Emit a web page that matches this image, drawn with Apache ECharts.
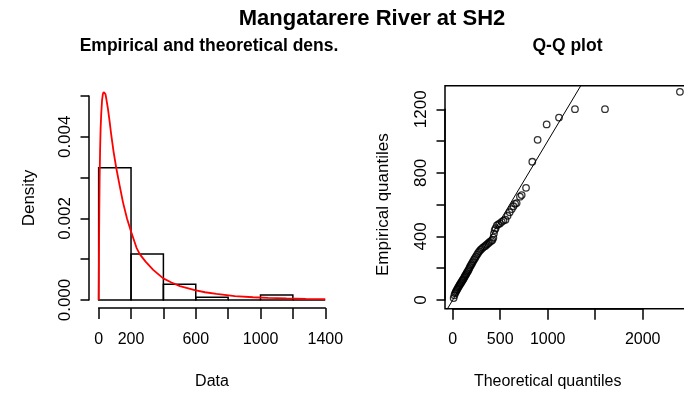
<!DOCTYPE html>
<html><head><meta charset="utf-8">
<script src="https://cdn.jsdelivr.net/npm/echarts@6/dist/echarts.min.js"></script>
<style>html,body{margin:0;padding:0;background:#fff}#c{width:684px;height:394px}</style>
</head><body><div id="c"></div>
<script>
// ---- text ----
const mainTitle = 'Mangatarere River at SH2';
const densTitle = 'Empirical and theoretical dens.';
const qqTitle = 'Q-Q plot';
const densXName = 'Data';
const densYName = 'Density';
const qqXName = 'Theoretical quantiles';
const qqYName = 'Empirical quantiles';

// ---- histogram (density scale) ----
const histBreaks = [0, 200, 400, 600, 800, 1000, 1200, 1400];
const histDensity = [0.00324, 0.00113, 0.000385, 0.000065, 0, 0.000125, 0];

// ---- fitted density curve ----
const curveX = [0, 1, 2, 4, 6, 9, 12, 16, 21, 26, 31, 37, 42, 47, 57, 68, 78, 92, 109, 130, 150, 175, 200, 234, 255, 290, 337, 399, 450, 502, 594, 657, 728, 841, 954, 1047, 1160, 1280, 1400];
const curveY = [0, 0.0006, 0.0012, 0.0022, 0.0030, 0.0037, 0.0042, 0.00458, 0.0049, 0.00505, 0.0051, 0.00511, 0.00505, 0.00494, 0.00470, 0.00437, 0.00404, 0.00364, 0.00323, 0.00280, 0.00240, 0.00200, 0.00168, 0.00128, 0.00112, 0.00094, 0.00074, 0.00053, 0.00043, 0.00034, 0.00024, 0.00019, 0.00015, 0.000095, 0.000068, 0.000050, 0.000038, 0.000028, 0.000020];

// ---- Q-Q points ----
const qqTheoretical = [10,18,25,32,38,45,52,58,65,72,78,85,92,99,106,113,120,127,134,141,148,156,164,172,180,189,198,207,216,226,236,246,257,268,280,292,305,318,332,346,360,375,390,405,418,428,434,442,452,465,480,497,516,535,556,578,600,622,640,657,673,708,726,772,838,894,989,1119,1287,1603,2392];
const qqEmpirical = [12,30,42,50,58,65,72,80,86,93,100,106,112,120,126,132,140,148,155,162,170,178,186,195,206,216,225,235,245,255,265,275,286,296,306,315,322,330,336,342,350,357,365,372,378,392,418,440,452,470,476,482,492,500,505,530,552,572,590,605,610,650,660,706,870,1008,1105,1148,1201,1201,1310];
const qqLine = [-200, 3000];

// ---- tick labels ----
const densXLabels = [0, 200, 600, 1000, 1400];
const densYLabels = ['0.000', '0.002', '0.004'];
const qqXLabels = [0, 500, 1000, 2000];
const qqYLabels = [0, 400, 800, 1200];

const FONT = 'Liberation Sans, Arial, sans-serif';
const BLACK = '#000';

function hiddenAxis(gridIndex, min, max) {
  return { type: 'value', gridIndex, min, max, show: false, splitLine: { show: false } };
}
function shownX(gridIndex, min, max, interval, labels, name, gap, labelMargin, tickLen) {
  return {
    type: 'value', gridIndex, min, max, interval, position: 'bottom',
    axisLine: { show: true, onZero: false, lineStyle: { color: BLACK, width: 1.5 } },
    axisTick: { show: true, inside: false, length: tickLen, lineStyle: { color: BLACK, width: 1.5 } },
    splitLine: { show: false },
    axisLabel: {
      margin: labelMargin, color: BLACK, fontFamily: FONT, fontSize: 16,
      showMinLabel: true, showMaxLabel: true, hideOverlap: false,
      formatter: v => labels.some(l => Math.abs(l - v) < 1e-9) ? String(v) : ''
    },
    name, nameLocation: 'middle', nameGap: gap,
    nameTextStyle: { color: BLACK, fontFamily: FONT, fontSize: 16 }
  };
}
function shownY(gridIndex, min, max, interval, labels, fmt, name, gap, labelMargin, tickLen) {
  return {
    type: 'value', gridIndex, min, max, interval, position: 'left',
    axisLine: { show: true, onZero: false, lineStyle: { color: BLACK, width: 1.5 } },
    axisTick: { show: true, inside: false, length: tickLen, lineStyle: { color: BLACK, width: 1.5 } },
    splitLine: { show: false },
    axisLabel: {
      rotate: 90, margin: labelMargin, color: BLACK, fontFamily: FONT, fontSize: 17,
      showMinLabel: true, showMaxLabel: true, hideOverlap: false,
      formatter: v => { const s = fmt(v); return labels.indexOf(s) >= 0 ? s : ''; }
    },
    name, nameLocation: 'middle', nameGap: gap, nameRotate: 90,
    nameTextStyle: { color: BLACK, fontFamily: FONT, fontSize: 17 }
  };
}

const chart = echarts.init(document.getElementById('c'), null, { renderer: 'canvas' });
const option = {
  animation: false,
  backgroundColor: '#fff',
  graphic: [
    { type: 'text', x: 372, y: 19, style: { text: mainTitle, font: 'bold 22px Liberation Sans, Arial, sans-serif', fill: BLACK, align: 'center', verticalAlign: 'middle' } },
    { type: 'text', x: 209, y: 46, style: { text: densTitle, font: 'bold 17.5px Liberation Sans, Arial, sans-serif', fill: BLACK, align: 'center', verticalAlign: 'middle' } },
    { type: 'text', x: 567.5, y: 46, style: { text: qqTitle, font: 'bold 17.5px Liberation Sans, Arial, sans-serif', fill: BLACK, align: 'center', verticalAlign: 'middle' } }
  ],
  grid: [
    { left: 89.6, top: 92, width: 244.7, height: 216, outerBoundsMode: 'none' },
    { left: 98.7, top: 298, width: 226.6, height: 10, outerBoundsMode: 'none' },
    { left: 89, top: 96, width: 200, height: 204, outerBoundsMode: 'none' },
    { left: 445, top: 85.7, width: 245, height: 223, show: true, borderColor: BLACK, borderWidth: 1.5, backgroundColor: 'transparent', outerBoundsMode: 'none' },
    { left: 452.7, top: 298.7, width: 190, height: 10, outerBoundsMode: 'none' },
    { left: 445, top: 109.3, width: 200, height: 190.7, outerBoundsMode: 'none' }
  ],
  xAxis: [
    hiddenAxis(0, -56, 1456),
    shownX(1, 0, 1400, 200, densXLabels, densXName, 66, 24, 11),
    hiddenAxis(2, 0, 1),
    hiddenAxis(3, -81, 2498),
    shownX(4, 0, 2000, 500, qqXLabels, qqXName, 65, 23, 11),
    hiddenAxis(5, 0, 1)
  ],
  yAxis: [
    hiddenAxis(0, -0.000196, 0.0051),
    hiddenAxis(1, 0, 1),
    shownY(2, 0, 0.005, 0.001, densYLabels, v => (Math.round(v * 1e6) / 1e6).toFixed(3), densYName, 51, 15, 8.5),
    hiddenAxis(3, -54.7, 1348.4),
    hiddenAxis(4, 0, 1),
    shownY(5, 0, 1200, 200, qqYLabels.map(String), v => String(Math.round(v)), qqYName, 53, 15, 8.5)
  ],
  series: [
    {
      type: 'custom', xAxisIndex: 0, yAxisIndex: 0, z: 2,
      data: histDensity.map((d, i) => [histBreaks[i], histBreaks[i + 1], d]),
      encode: { x: [0, 1], y: 2 },
      renderItem: function (params, api) {
        const p0 = api.coord([api.value(0), api.value(2)]);
        const p1 = api.coord([api.value(1), 0]);
        return { type: 'rect', shape: { x: p0[0], y: p0[1], width: p1[0] - p0[0], height: p1[1] - p0[1] },
                 style: { fill: 'none', stroke: BLACK, lineWidth: 1.5 } };
      }
    },
    {
      type: 'line', xAxisIndex: 0, yAxisIndex: 0, z: 3,
      data: curveX.map((x, i) => [x, curveY[i]]),
      showSymbol: false, symbol: 'none',
      lineStyle: { color: '#ff0000', width: 1.8 }
    },
    {
      type: 'line', xAxisIndex: 3, yAxisIndex: 3, z: 2, clip: true,
      data: qqLine.map(v => [v, v]),
      showSymbol: false, symbol: 'none',
      lineStyle: { color: BLACK, width: 1 }
    },
    {
      type: 'scatter', xAxisIndex: 3, yAxisIndex: 3, z: 3,
      data: qqTheoretical.map((x, i) => [x, qqEmpirical[i]]),
      symbol: 'circle', symbolSize: 6.5,
      itemStyle: { color: 'rgba(0,0,0,0)', borderColor: BLACK, borderWidth: 1.3 }
    }
  ]
};
chart.setOption(option);
</script></body></html>
